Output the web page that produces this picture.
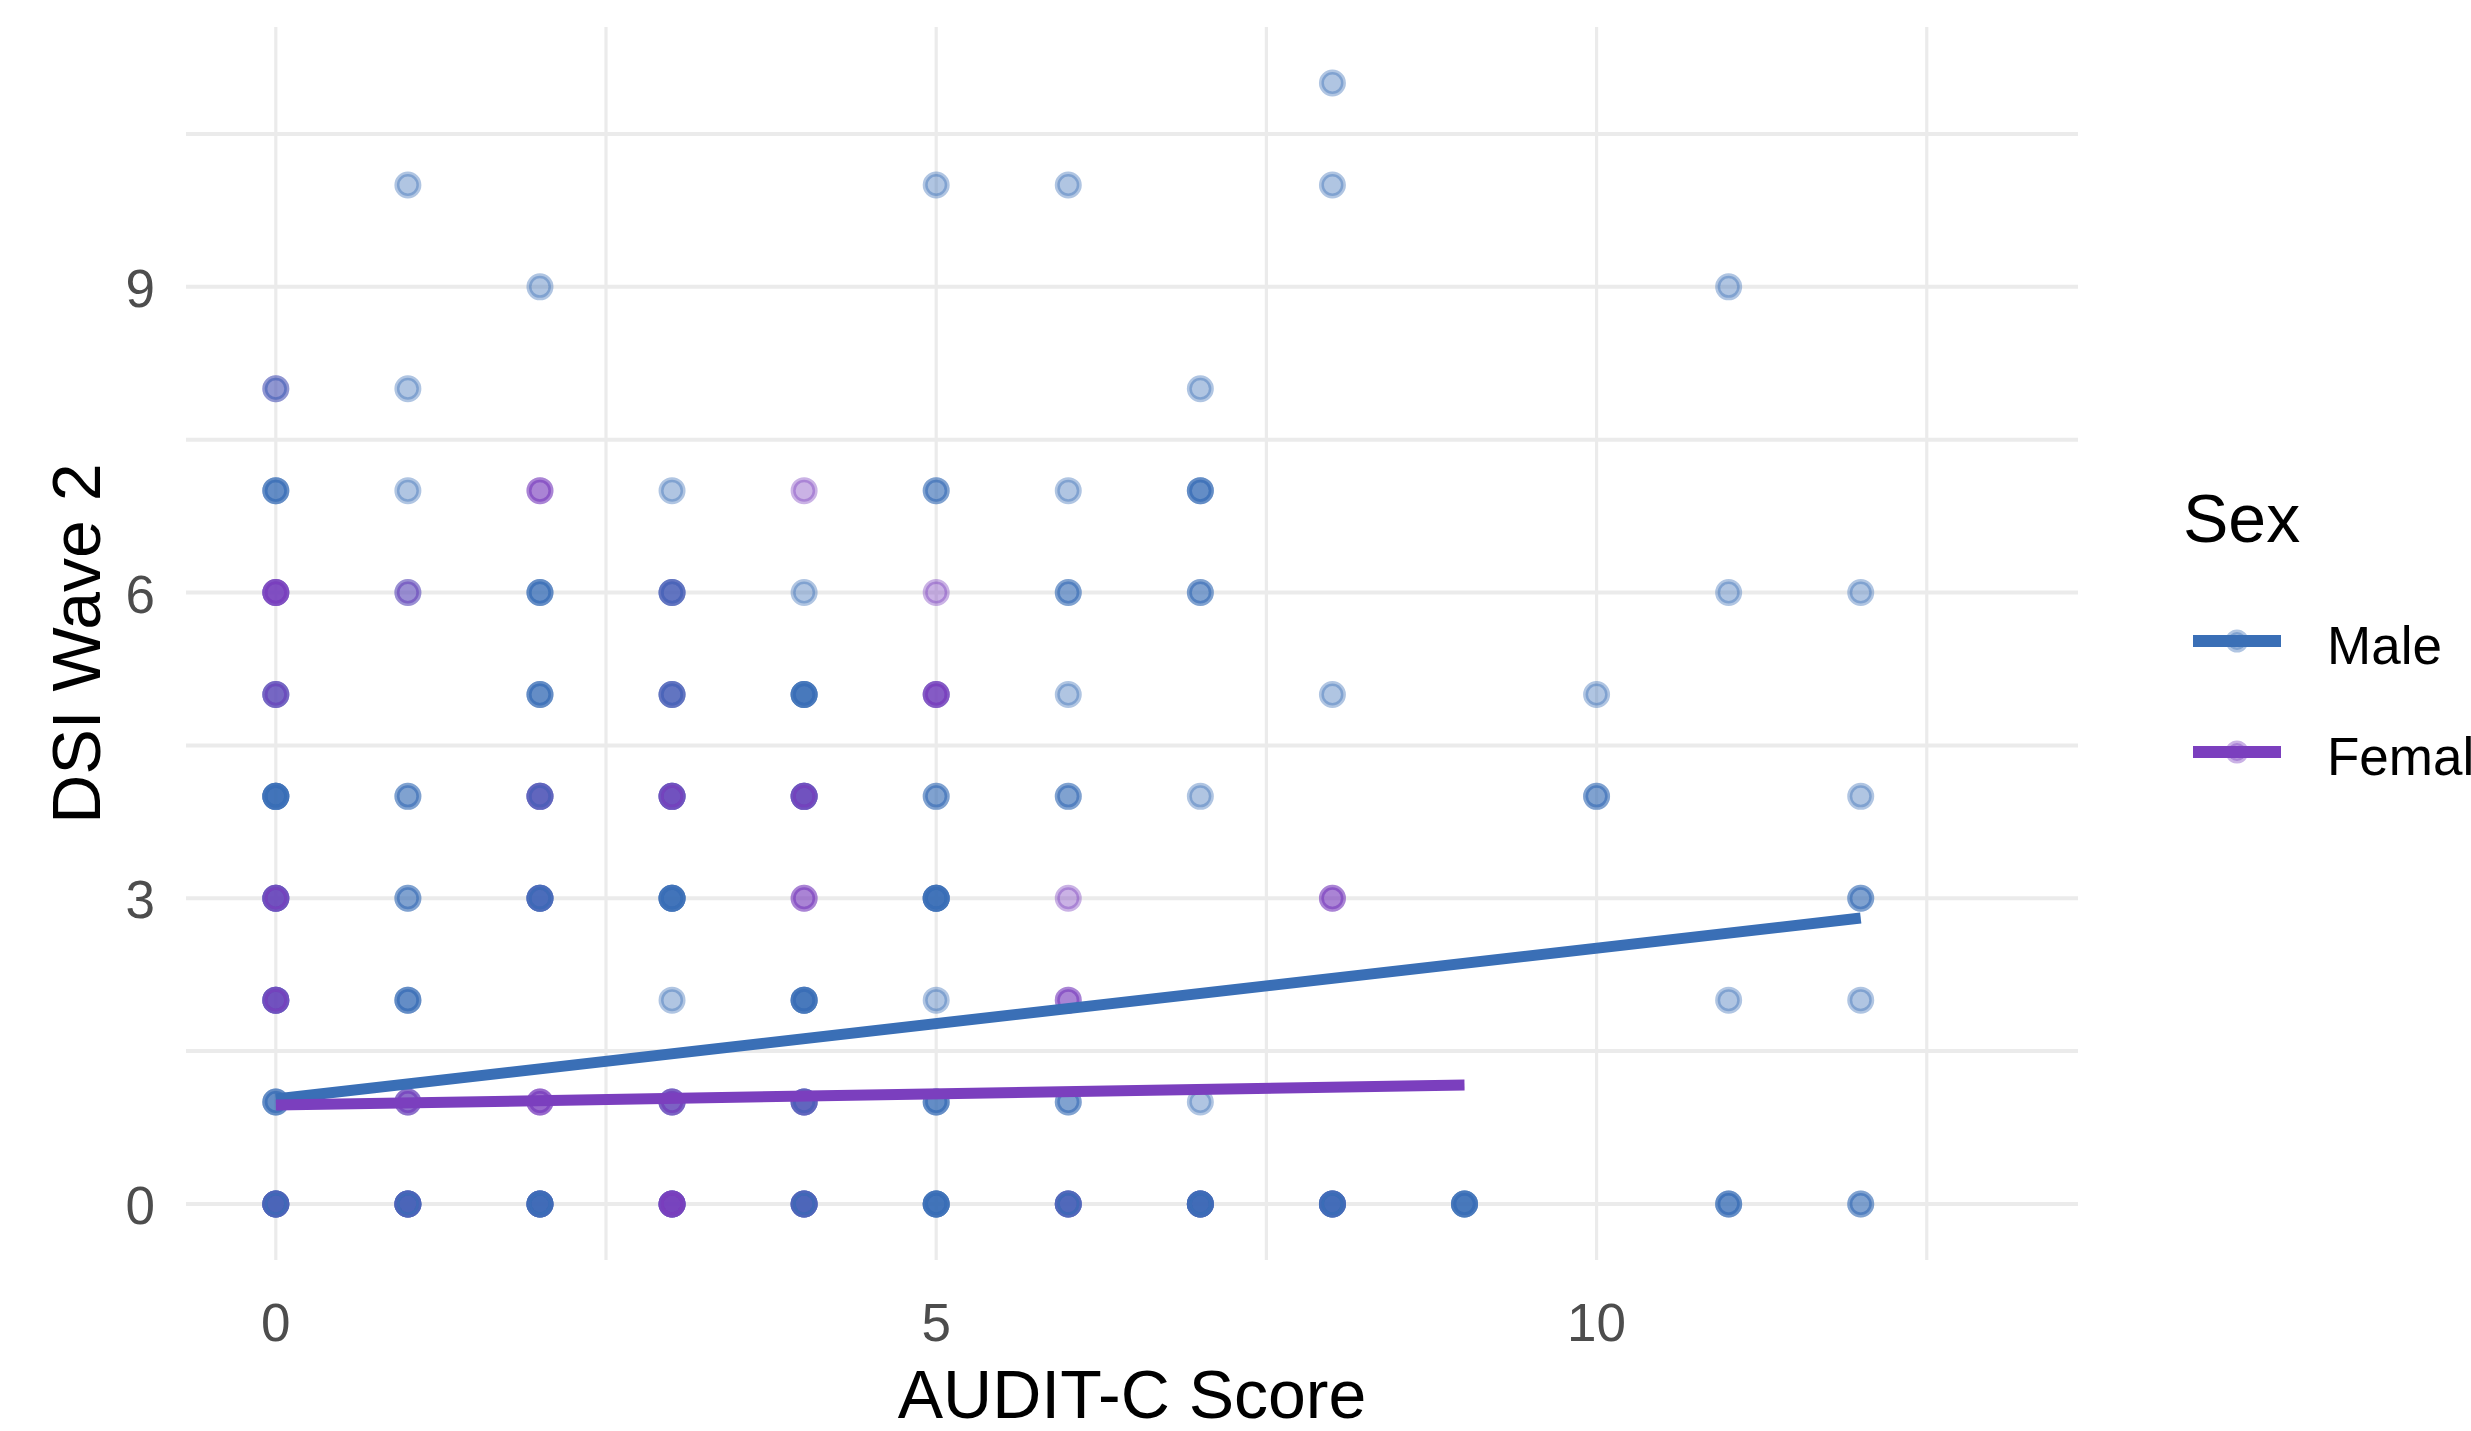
<!DOCTYPE html>
<html lang="en">
  <head>
    <meta charset="utf-8" />
    <title>DSI Wave 2 by AUDIT-C Score</title>
    <script src="https://d3js.org/d3.v7.min.js"></script>
    <style>
      body {
        margin: 0;
        background-color: #ffffff;
        font-family: "Liberation Sans", Arial, sans-serif;
      }
    </style>
  </head>

  <body>
    <div id="chart"></div>

    <script>
      // each cell: AUDIT-C score, DSI wave 2 score, and the sexes of the
      // respondents at that spot in plotting order (M = Male, F = Female)
      const cellAudit = [
        8,
        1, 5, 6, 8,
        2, 11,
        0, 1, 7,
        0, 1, 2, 3, 4, 5, 6, 7,
        0, 1, 2, 3, 4, 5, 6, 7, 11, 12,
        0, 2, 3, 4, 5, 6, 8, 10,
        0, 1, 2, 3, 4, 5, 6, 7, 10, 12,
        0, 1, 2, 3, 4, 5, 6, 8, 12,
        0, 1, 3, 4, 5, 6, 11, 12,
        0, 1, 2, 3, 4, 5, 6, 7,
        0, 1, 2, 3, 4, 5, 6, 7, 8, 9, 11, 12,
      ];
      const cellDsi = [
        11,
        10, 10, 10, 10,
        9, 9,
        8, 8, 8,
        7, 7, 7, 7, 7, 7, 7, 7,
        6, 6, 6, 6, 6, 6, 6, 6, 6, 6,
        5, 5, 5, 5, 5, 5, 5, 5,
        4, 4, 4, 4, 4, 4, 4, 4, 4, 4,
        3, 3, 3, 3, 3, 3, 3, 3, 3,
        2, 2, 2, 2, 2, 2, 2, 2,
        1, 1, 1, 1, 1, 1, 1, 1,
        0, 0, 0, 0, 0, 0, 0, 0, 0, 0, 0, 0,
      ];
      const cellSexes = [
        "M",
        "M", "M", "M", "M",
        "M", "M",
        "FM", "M", "M",
        "MMM", "M", "FF", "M", "F", "MM", "M", "MMM",
        "MFFFF", "MF", "MMM", "MMFM", "M", "F", "MM", "MM", "M", "M",
        "MFMF", "MMM", "MMFM", "MMMMM", "MFFF", "M", "M", "M",
        "MMMMMM", "MM", "MMFFM", "MMFMFF", "MMFMFF", "MM", "MM", "M", "MM", "M",
        "MMFMFF", "MM", "MMMFMM", "MMMMMM", "FF", "MMMMMM", "F", "FF", "MM",
        "MMFMFF", "MMM", "M", "MMMMM", "M", "FF", "M", "M",
        "MMM", "MFF", "FFF", "MMFF", "MMFFM", "MMM", "MM", "M",
        "MMMMFFMM", "MMMMFFMM", "MMMMFMMM", "MMMFFFFF", "MMMFFMM", "MMMMMM",
        "MMFFMM", "MMMMFMMM", "MMMFMMM", "MMMMM", "MMM", "MM",
      ];

      // linear fits (geom_smooth, method = "lm")
      const fitSex = ["Male", "Female"];
      const fitIntercept = [1.03, 0.97];
      const fitSlope = [0.148, 0.022];
      const fitXMax = [12, 9];

      const sexLevels = ["Male", "Female"];
      const xTicks = [0, 5, 10];
      const yTicks = [0, 3, 6, 9];
      const xMinor = [2.5, 7.5, 12.5];
      const yMinor = [1.5, 4.5, 7.5, 10.5];

      const W = 2471,
        H = 1431;
      const panel = { left: 186, right: 2078, top: 27, bottom: 1260 };

      const svg = d3
        .select("#chart")
        .append("svg")
        .attr("width", W)
        .attr("height", H)
        .style("display", "block");

      const x = d3
        .scaleLinear()
        .domain([-0.68, 13.645])
        .range([panel.left, panel.right]);
      const y = d3
        .scaleLinear()
        .domain([-0.55, 11.55])
        .range([panel.bottom, panel.top]);
      const color = d3
        .scaleOrdinal()
        .domain(sexLevels)
        .range(["#3a6fb6", "#7b3fbe"]);

      // one row per respondent
      const data = [];
      cellSexes.forEach((s, i) => {
        for (const c of s) {
          data.push({
            audit: cellAudit[i],
            dsi: cellDsi[i],
            sex: c === "M" ? "Male" : "Female",
          });
        }
      });

      // grid
      const grid = svg.append("g").attr("stroke", "#ebebeb");
      grid
        .selectAll("line.h")
        .data(yTicks.concat(yMinor))
        .join("line")
        .attr("x1", panel.left)
        .attr("x2", panel.right)
        .attr("y1", (d) => y(d))
        .attr("y2", (d) => y(d))
        .attr("stroke-width", 4);
      grid
        .selectAll("line.v")
        .data(xTicks.concat(xMinor))
        .join("line")
        .attr("y1", panel.top)
        .attr("y2", panel.bottom)
        .attr("x1", (d) => x(d))
        .attr("x2", (d) => x(d))
        .attr("stroke-width", 3.2);

      // points
      svg
        .append("g")
        .selectAll("circle")
        .data(data)
        .join("circle")
        .attr("cx", (d) => x(d.audit))
        .attr("cy", (d) => y(d.dsi))
        .attr("r", 11)
        .attr("fill", (d) => color(d.sex))
        .attr("stroke", (d) => color(d.sex))
        .attr("stroke-width", 5)
        .attr("fill-opacity", 0.4)
        .attr("stroke-opacity", 0.4);

      // fitted lines
      const line = d3
        .line()
        .x((d) => x(d[0]))
        .y((d) => y(d[1]));
      svg
        .append("g")
        .selectAll("path")
        .data(fitSex)
        .join("path")
        .attr("d", (s, i) =>
          line([
            [0, fitIntercept[i]],
            [fitXMax[i], fitIntercept[i] + fitSlope[i] * fitXMax[i]],
          ])
        )
        .attr("fill", "none")
        .attr("stroke", (s) => color(s))
        .attr("stroke-width", 11);

      // axis tick labels
      svg
        .append("g")
        .selectAll("text")
        .data(xTicks)
        .join("text")
        .attr("x", (d) => x(d))
        .attr("y", 1341)
        .attr("text-anchor", "middle")
        .style("font-size", "53px")
        .style("fill", "#4d4d4d")
        .text((d) => d);

      svg
        .append("g")
        .selectAll("text")
        .data(yTicks)
        .join("text")
        .attr("x", 155)
        .attr("y", (d) => y(d) + 20)
        .attr("text-anchor", "end")
        .style("font-size", "53px")
        .style("fill", "#4d4d4d")
        .text((d) => d);

      // axis titles
      svg
        .append("text")
        .attr("x", (panel.left + panel.right) / 2)
        .attr("y", 1418)
        .attr("text-anchor", "middle")
        .style("font-size", "68px")
        .style("fill", "#000")
        .text("AUDIT-C Score");

      svg
        .append("text")
        .attr(
          "transform",
          `translate(100,${(panel.top + panel.bottom) / 2}) rotate(-90)`
        )
        .attr("text-anchor", "middle")
        .style("font-size", "68px")
        .style("fill", "#000")
        .text("DSI Wave 2");

      // legend
      const legend = svg.append("g");
      legend
        .append("text")
        .attr("x", 2183)
        .attr("y", 542)
        .style("font-size", "68px")
        .style("fill", "#000")
        .text("Sex");

      const keys = legend
        .selectAll("g")
        .data(sexLevels)
        .join("g")
        .attr("transform", (d, i) => `translate(0,${641 + i * 111})`);
      keys
        .append("circle")
        .attr("cx", 2237)
        .attr("cy", 0)
        .attr("r", 9)
        .attr("fill", (d) => color(d))
        .attr("stroke", (d) => color(d))
        .attr("stroke-width", 5)
        .attr("fill-opacity", 0.4)
        .attr("stroke-opacity", 0.4);
      keys
        .append("line")
        .attr("x1", 2193)
        .attr("x2", 2281)
        .attr("stroke", (d) => color(d))
        .attr("stroke-width", 12);
      keys
        .append("text")
        .attr("x", 2327)
        .attr("y", 23)
        .style("font-size", "53px")
        .style("fill", "#000")
        .text((d) => d);
    </script>
  </body>
</html>
